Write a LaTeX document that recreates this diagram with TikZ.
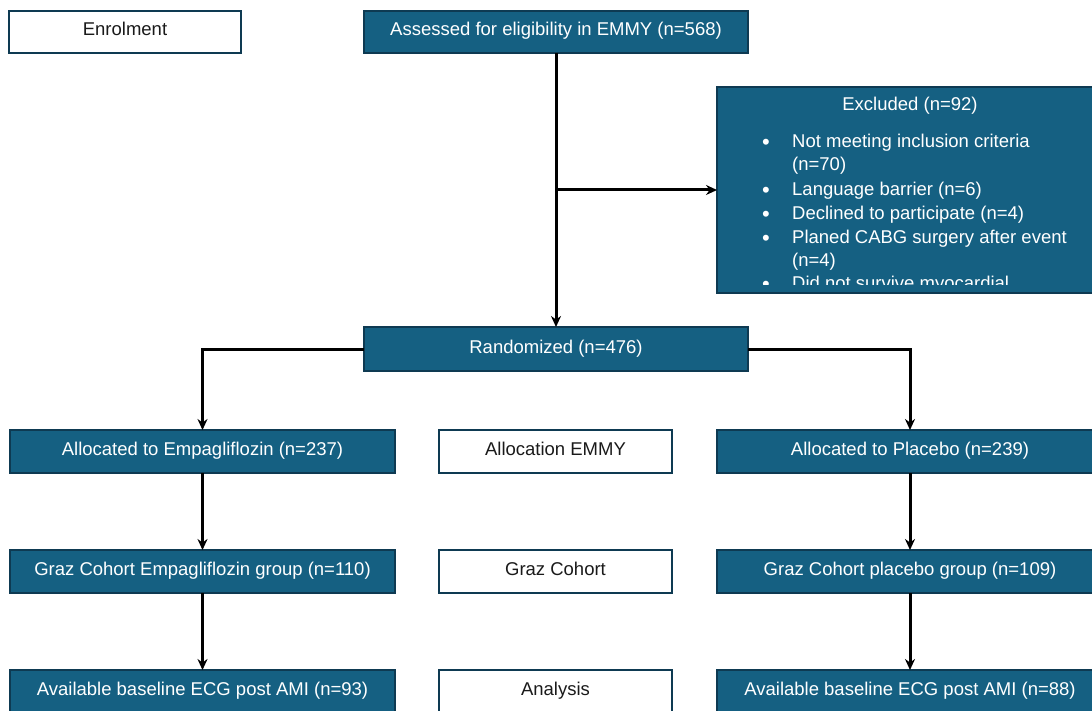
\documentclass[tikz,border=0pt]{standalone}
\usepackage{fontspec}
\setmainfont{Liberation Sans}
\usetikzlibrary{arrows.meta}
\definecolor{boxblue}{HTML}{156082}
\definecolor{boxedge}{HTML}{0E3A52}
\definecolor{txtdark}{HTML}{1A1A1A}
\tikzset{
  boxbase/.style={draw=boxedge, line width=1.8pt, inner sep=0pt, outer sep=0pt, text height=13.5pt, text depth=5.5pt, font=\fontsize{18.5}{22}\selectfont},
  bluebox/.style={boxbase, fill=boxblue, text=white},
  whitebox/.style={boxbase, fill=white, text=txtdark},
  exline/.style={anchor=west, text=white, inner sep=0pt, font=\fontsize{18.5}{22}\selectfont},
  exbullet/.style={anchor=center, text=white, inner sep=0pt, font=\fontsize{22}{22}\selectfont},
  arr/.style={line width=3pt, -{Stealth[length=11pt,width=10pt]}},
}
\begin{document}
\begin{tikzpicture}[x=1pt,y=-1pt]
\useasboundingbox (0,0) rectangle (1092,711);
\clip (0,0) rectangle (1092,711);
% top row
\node[whitebox, minimum width=232pt, minimum height=42pt] (enrol) at (125,32) {Enrolment};
\node[bluebox, minimum width=384pt, minimum height=42pt] (assess) at (556,32) {Assessed for eligibility in EMMY (n=568)};
% excluded box
\node[bluebox, minimum width=386pt, minimum height=206pt] (excl) at (910,190) {};
\node[text=white, inner sep=0pt, font=\fontsize{18.5}{22}\selectfont] (extitle) at (910,106) {Excluded (n=92)};
\begin{scope}
\clip (717,95) rectangle (1092,285);
\node[exbullet] (b1) at (766,144) {•};
\node[exline] (l1) at (792,143) {Not meeting inclusion criteria};
\node[exline] (l1b) at (792,166) {(n=70)};
\node[exbullet] (b2) at (766,192) {•};
\node[exline] (l2) at (792,191) {Language barrier (n=6)};
\node[exbullet] (b3) at (766,216) {•};
\node[exline] (l3) at (792,215) {Declined to participate (n=4)};
\node[exbullet] (b4) at (766,240) {•};
\node[exline] (l4) at (792,239) {Planed CABG surgery after event};
\node[exline] (l4b) at (792,262) {(n=4)};
\node[exbullet] (b5) at (766,286) {•};
\node[exline] (l5) at (792,285) {Did not survive myocardial};
\end{scope}
% randomized
\node[bluebox, minimum width=384pt, minimum height=44pt] (rand) at (556,349) {Randomized (n=476)};
% allocation row
\node[bluebox, minimum width=385pt, minimum height=43pt] (allocE) at (202.5,451.5) {Allocated to Empagliflozin (n=237)};
\node[whitebox, minimum width=233pt, minimum height=43pt] (allocM) at (555.5,451.5) {Allocation EMMY};
\node[bluebox, minimum width=386pt, minimum height=43pt] (allocP) at (910,451.5) {Allocated to Placebo (n=239)};
% graz row
\node[bluebox, minimum width=385pt, minimum height=43pt] (grazE) at (202.5,571.5) {Graz Cohort Empagliflozin group (n=110)};
\node[whitebox, minimum width=233pt, minimum height=43pt] (grazM) at (555.5,571.5) {Graz Cohort};
\node[bluebox, minimum width=386pt, minimum height=43pt] (grazP) at (910,571.5) {Graz Cohort placebo group (n=109)};
% analysis row
\node[bluebox, minimum width=385pt, minimum height=43pt] (availE) at (202.5,691.5) {Available baseline ECG post AMI (n=93)};
\node[whitebox, minimum width=233pt, minimum height=43pt] (availM) at (555.5,691.5) {Analysis};
\node[bluebox, minimum width=386pt, minimum height=43pt] (availP) at (910,691.5) {Available baseline ECG post AMI (n=88)};
% connectors
\coordinate (br) at (556,190);
\draw[arr] (assess.south) -- (rand.north);
\draw[arr] (br) -- (excl.west);
\draw[arr] (rand.west) -| (allocE.north);
\draw[arr] (rand.east) -| (allocP.north);
\draw[arr] (allocE.south) -- (grazE.north);
\draw[arr] (allocP.south) -- (grazP.north);
\draw[arr] (grazE.south) -- (availE.north);
\draw[arr] (grazP.south) -- (availP.north);
\end{tikzpicture}
\end{document}
